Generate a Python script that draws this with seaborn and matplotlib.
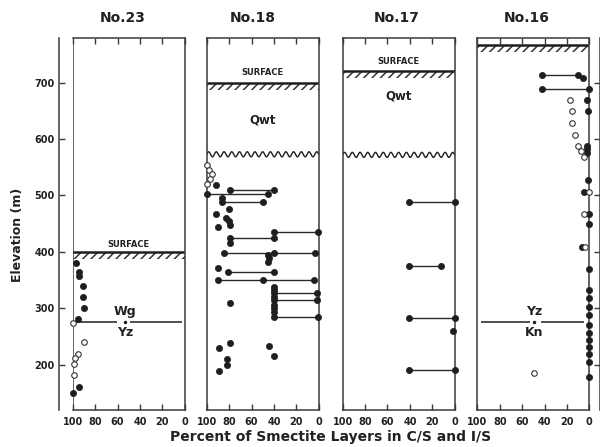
import numpy as np
import pandas as pd
import matplotlib
matplotlib.use("Agg")
import matplotlib.pyplot as plt
import seaborn as sns

sns.set_theme(style="white")
plt.rcParams["font.family"] = ["DejaVu Sans"]
plt.rcParams["hatch.linewidth"] = 1.1

# ---------------- data ----------------
wells = ["No.23", "No.18", "No.17", "No.16"]
pct_ticks = [100, 80, 60, 40, 20, 0]
elev_ticks = [200, 300, 400, 500, 600, 700]

# No.23
n23_filled_pct = [97, 94, 94, 91, 91, 90, 95.5, 94, 99.5]
n23_filled_elev = [380, 365, 358, 340, 320, 300, 281, 160, 151]
n23_open_pct = [99.5, 90, 95.5, 98, 99, 99]
n23_open_elev = [275, 241, 220, 213, 201, 182]
n23_tie_elev, n23_tie_left, n23_tie_right = [], [], []

# No.18
n18_filled_pct = [91.8, 79.4, 39.7, 99.4, 45.6, 86, 86, 49.4, 80, 91.8,
                  83, 80, 79.4, 89.7, 39.7, 0.6, 79.4, 39.7, 79.4,
                  84.7, 39.7, 2.9, 45.6, 44.7, 45.6, 89.7, 80.9, 39.7,
                  89.7, 49.4, 4.4, 39.7, 39.7, 39.7, 1.5, 39.7, 39.7, 1.5,
                  39.7, 39.7, 39.7, 39.7, 0.6, 78.8,
                  79.4, 89, 44, 39.7, 81.8, 81.8, 89]
n18_filled_elev = [519, 510, 510, 502, 502, 496, 489, 489, 476, 468,
                   460, 454, 448, 445, 435, 435, 425, 424, 415,
                   399, 399, 399, 394, 389, 383, 371, 364, 364,
                   350, 350, 350, 338, 333, 328, 328, 321, 315, 315,
                   306, 300, 294, 284, 284, 309,
                   239, 229, 234, 215, 210, 200, 189]
n18_open_pct = [100, 97.6, 95.6, 97, 99.4]
n18_open_elev = [554, 545, 538, 530, 521]
n18_tie_elev = [510, 502, 489, 435, 424, 399, 364, 350, 328, 315, 284]
n18_tie_left = [79.4, 99.4, 86, 39.7, 79.4, 84.7, 80.9, 89.7, 39.7, 39.7, 39.7]
n18_tie_right = [39.7, 45.6, 49.4, 0.6, 39.7, 2.9, 39.7, 4.4, 1.5, 1.5, 0.6]

# No.17
n17_filled_pct = [40.6, 0, 40.6, 11.9, 40.6, 0, 1.5, 40.6, 0]
n17_filled_elev = [488, 488, 375, 375, 283, 283, 260, 191, 191]
n17_open_pct, n17_open_elev = [], []
n17_tie_elev = [488, 375, 283, 191]
n17_tie_left = [40.6, 40.6, 40.6, 40.6]
n17_tie_right = [0, 11.9, 0, 0]

# No.16
n16_filled_pct = [42.4, 10.4, 6, 42.4, 0.6, 2, 1.5, 2, 2, 2, 1, 5, 0.6, 0,
                  6.5, 0, 0, 0, 0, 0, 0, 0, 0, 0, 0, 0, 0]
n16_filled_elev = [714, 714, 708, 688, 688, 669, 650, 588, 582, 576, 528, 507,
                   468, 449, 408, 369, 332, 318, 303, 288, 270, 256, 244, 232,
                   220, 205, 179]
n16_open_pct = [17, 15.5, 15.5, 12.5, 10.4, 7.5, 4.5, 0.6, 4.5, 3.6, 49.3]
n16_open_elev = [669, 650, 629, 607, 588, 579, 569, 507, 468, 408, 186]
n16_tie_elev = [714, 688]
n16_tie_left = [42.4, 42.4]
n16_tie_right = [10.4, 0.6]

surface_elev = [400, 700, 721, 767]
surface_label = [True, True, True, False]
surface_text_elev = [414, 717, 737, None]
qwt_elev = [None, 634, 676, None]
unconformity_elev = [None, 573, 572, None]
contact_elev = [276, None, None, 276]
contact_upper = ["Wg", None, None, "Yz"]
contact_lower = ["Yz", None, None, "Kn"]
contact_label_pct = [53, None, None, 49]
contact_segments = [[(100, 60.5), (48.5, 2.2)], None, None, [(97, 53), (43, 5)]]

filled = [(n23_filled_pct, n23_filled_elev), (n18_filled_pct, n18_filled_elev),
          (n17_filled_pct, n17_filled_elev), (n16_filled_pct, n16_filled_elev)]
opened = [(n23_open_pct, n23_open_elev), (n18_open_pct, n18_open_elev),
          (n17_open_pct, n17_open_elev), (n16_open_pct, n16_open_elev)]
ties = [(n23_tie_elev, n23_tie_left, n23_tie_right),
        (n18_tie_elev, n18_tie_left, n18_tie_right),
        (n17_tie_elev, n17_tie_left, n17_tie_right),
        (n16_tie_elev, n16_tie_left, n16_tie_right)]

# ---------------- layout ----------------
W, H = 600, 447
fig = plt.figure(figsize=(W / 100, H / 100), dpi=100)
lefts = [72.7, 206.7, 342.7, 477.3]
title_x = [123, 253, 397, 527]
top_px, bot_px, width_px = 38, 410, 112
ink = "#1e1e1e"
frame = "#3a3a3a"

for i, well in enumerate(wells):
    ax = fig.add_axes([lefts[i] / W, 1 - bot_px / H, width_px / W, (bot_px - top_px) / H])
    ax.set_xlim(100, 0)
    ax.set_ylim(120, 779)
    for sp in ax.spines.values():
        sp.set_color(frame)
        sp.set_linewidth(1.1)
    ax.set_xticks(pct_ticks)
    ax.tick_params(axis="x", direction="in", length=4, width=1, top=True,
                   bottom=True, labelsize=7, colors=frame, pad=5)
    for lab in ax.get_xticklabels():
        lab.set_fontweight("bold")
        lab.set_color("#222222")
    if i == 0:
        ax.spines["left"].set_position(("outward", 10))
        ax.set_yticks(elev_ticks)
        ax.tick_params(axis="y", direction="in", length=4, width=1, left=True,
                       labelsize=7, colors=frame, pad=3)
        for lab in ax.get_yticklabels():
            lab.set_fontweight("bold")
            lab.set_color("#222222")
        ax.axvline(100, color=frame, lw=1.1, zorder=1)
    else:
        ax.set_yticks([])
    if i == 3:
        tw = ax.twinx()
        tw.set_ylim(120, 779)
        for k in ["left", "top", "bottom"]:
            tw.spines[k].set_visible(False)
        tw.spines["right"].set_position(("outward", 8))
        tw.spines["right"].set_color(frame)
        tw.spines["right"].set_linewidth(1.1)
        tw.set_yticks(elev_ticks)
        tw.tick_params(axis="y", direction="in", length=4, width=1, right=True,
                       labelright=False, colors=frame)

    # surface + hatch
    s = surface_elev[i]
    ax.axhline(s, color=ink, lw=1.8, zorder=2)
    ax.fill_between([100, 0], s - 13, s, facecolor="none", edgecolor="#333333",
                    hatch="////", linewidth=0, zorder=1)
    if surface_label[i]:
        ax.text(50, surface_text_elev[i], "SURFACE", ha="center", va="center",
                fontsize=6, fontweight="bold", color="#222222")
    if qwt_elev[i] is not None:
        ax.text(50, qwt_elev[i], "Qwt", ha="center", va="center",
                fontsize=8.5, fontweight="bold", color="#222222")
    if unconformity_elev[i] is not None:
        xw = np.linspace(100, 0, 500)
        yw = unconformity_elev[i] + 4.5 * np.sin(2 * np.pi * xw / 6.9)
        ax.plot(xw, yw, color=ink, lw=1.0, zorder=2)
    if contact_elev[i] is not None:
        c = contact_elev[i]
        for a, b in contact_segments[i]:
            ax.hlines(c, a, b, color=ink, lw=1.1, zorder=2)
        ax.plot([contact_label_pct[i]], [c], marker="o", ms=1.5, color=ink)
        ax.text(contact_label_pct[i], c + 19, contact_upper[i], ha="center",
                va="center", fontsize=9, fontweight="bold", color="#222222")
        ax.text(contact_label_pct[i], c - 19, contact_lower[i], ha="center",
                va="center", fontsize=9, fontweight="bold", color="#222222")

    # tie lines
    te, tl, tr = ties[i]
    if te:
        ax.hlines(te, tl, tr, color="#2a2a2a", lw=1.0, zorder=2)

    # points
    fp, fe = filled[i]
    df_f = pd.DataFrame({"pct": fp, "elev": fe})
    sns.scatterplot(data=df_f, x="pct", y="elev", ax=ax, color=ink, s=20,
                    edgecolor=ink, linewidth=0.5, zorder=4, clip_on=False, legend=False)
    op, oe = opened[i]
    if op:
        df_o = pd.DataFrame({"pct": op, "elev": oe})
        sns.scatterplot(data=df_o, x="pct", y="elev", ax=ax, color="white", s=16,
                        edgecolor="#333333", linewidth=0.8, zorder=5, clip_on=False,
                        legend=False)
    ax.set_xlabel("")
    ax.set_ylabel("")

    fig.text(title_x[i] / W, 1 - 18 / H, well, ha="center", va="center",
             fontsize=10, fontweight="bold", color="#222222")

fig.text(18 / W, 1 - 235 / H, "Elevation (m)", rotation=90, ha="center",
         va="center", fontsize=9, fontweight="bold", color="#222222")
fig.text(331 / W, 1 - 437 / H, "Percent of Smectite Layers in C/S and I/S",
         ha="center", va="center", fontsize=10, fontweight="bold", color="#222222")

fig.savefig("out.png", dpi=100)
